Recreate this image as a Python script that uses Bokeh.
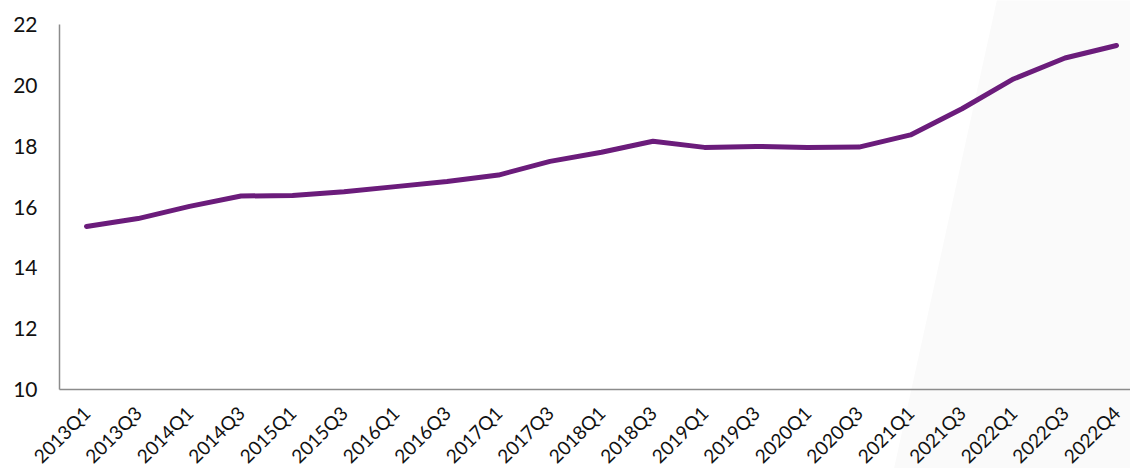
import math
from bokeh.plotting import figure
from bokeh.models import Range1d
from bokeh.core.properties import value
from bokeh.embed import file_html
from bokeh.resources import INLINE

quarters = ["2013Q1", "2013Q3", "2014Q1", "2014Q3", "2015Q1", "2015Q3", "2016Q1",
            "2016Q3", "2017Q1", "2017Q3", "2018Q1", "2018Q3", "2019Q1", "2019Q3",
            "2020Q1", "2020Q3", "2021Q1", "2021Q3", "2022Q1", "2022Q3", "2022Q4"]
values = [15.36, 15.62, 16.02, 16.36, 16.38, 16.5, 16.67, 16.84, 17.05, 17.5, 17.8,
          18.16, 17.96, 17.99, 17.96, 17.97, 18.37, 19.23, 20.21, 20.9, 21.31]
y_ticks = [10, 12, 14, 16, 18, 20, 22]

FONT = "Lato"
TEXT = "#111111"
AXIS = "#8c8c8c"
xs = list(range(len(quarters)))

# page geometry (pixels)
W, H = 1130, 468
AXIS_LEFT_PX = 59        # value axis line
FIRST_PX = 86            # first category centre
STEP_PX = 51.5           # category spacing
TOP_PX = 24              # y = max tick
BOTTOM_PX = 389          # y = min tick

PX_PER_Y = (BOTTOM_PX - TOP_PX) / (y_ticks[-1] - y_ticks[0])
x_lo = -FIRST_PX / STEP_PX
x_hi = (W - FIRST_PX) / STEP_PX
y_lo = y_ticks[0] - (H - BOTTOM_PX) / PX_PER_Y
y_hi = y_ticks[-1] + TOP_PX / PX_PER_Y
ax_x = (AXIS_LEFT_PX - FIRST_PX) / STEP_PX

p = figure(width=W, height=H, output_backend="svg", toolbar_location=None,
           x_range=Range1d(x_lo, x_hi), y_range=Range1d(y_lo, y_hi),
           min_border=0)
p.outline_line_color = None
p.grid.visible = False
p.axis.visible = False
p.border_fill_color = "white"

# faint decorative background band on the right
p.patch([17.806, x_hi + 1, x_hi + 1, 15.55], [y_hi + 1, y_hi + 1, y_lo - 1, y_lo - 1],
        fill_color="#fafafa", line_color=None, level="underlay")

# axis lines
p.segment(x0=[ax_x, ax_x], y0=[y_ticks[0], y_ticks[0]], x1=[x_hi + 1, ax_x],
          y1=[y_ticks[0], y_ticks[-1]], line_color=AXIS, line_width=1.5)

# data line
p.line(xs, values, line_color="#6B1C7B", line_width=5, line_join="round", line_cap="round")

# y tick labels
p.text(x=[ax_x - 22 / STEP_PX] * len(y_ticks), y=y_ticks, text=[str(t) for t in y_ticks],
       text_align="right", text_baseline="middle",
       text_font=value(FONT), text_font_size="21px", text_color=TEXT)

# x tick labels (rotated)
label_y = y_ticks[0] - 20 / PX_PER_Y
p.text(x=xs, y=[label_y] * len(xs), text=quarters, angle=math.pi / 4,
       text_align="right", text_baseline="middle",
       text_font=value(FONT), text_font_size="19px", text_color=TEXT)

open("out.html", "w").write(file_html(p, INLINE))
